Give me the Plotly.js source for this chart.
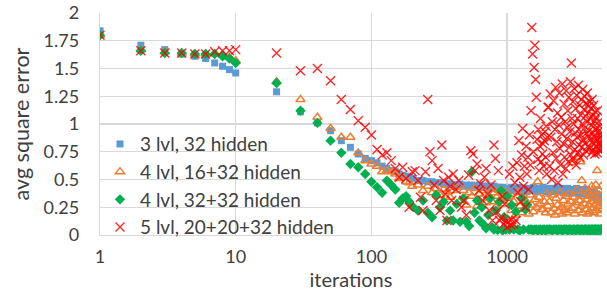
<!DOCTYPE html>
<html>
<head>
<meta charset="utf-8">
<script src="https://cdn.plot.ly/plotly-3.0.1.min.js"></script>
<style>html,body{margin:0;padding:0;background:#fff;}#chart{width:607px;height:291px;}</style>
</head>
<body>
<div id="chart"></div>
<script>
// iteration grid shared by the first three series
const iters = [1,2,3,4,5,6,7,8,9,10,
  20,30,40,50,60,70,80,90,100,
  110,120,130,140,150,160,170,180,190,200,
  220,240,260,280,300,320,340,360,380,400,
  425,450,475,500,525,550,575,600,625,650,675,700,725,750,775,800,825,850,875,900,925,950,975,1000,
  1040,1080,1120,1160,1200,1240,1280,1320,1360,1400,1440,1480,1520,1560,1600,1640,1680,1720,1760,1800,1840,1880,1920,1960,2000,
  2050,2100,2150,2200,2250,2300,2350,2400,2450,2500,2550,2600,2650,2700,2750,2800,2850,2900,2950,3000,
  3050,3100,3150,3200,3250,3300,3350,3400,3450,3500,3550,3600,3650,3700,3750,3800,3850,3900,3950,4000,
  4050,4100,4150,4200,4250,4300,4350,4400,4450,4500,4550,4600,4650,4700,4750,4800,4850,4900,4950,5000];

const lvl3 = [1.84,1.71,1.67,1.63,1.61,1.59,1.55,1.52,1.49,1.46,
  1.29,1.11,1.01,0.94,0.85,0.79,0.73,0.69,0.67,
  0.65,0.62,0.60,0.58,0.57,0.55,0.54,0.53,0.52,0.51,
  0.49,0.49,0.48,0.48,0.47,0.47,0.46,0.46,0.46,0.45,
  0.45,0.46,0.44,0.45,0.44,0.45,0.44,0.44,0.45,0.43,0.44,0.43,0.44,0.43,0.42,0.44,0.43,0.42,0.43,0.42,0.43,0.41,0.42,0.42,
  0.41,0.43,0.40,0.42,0.41,0.43,0.40,0.42,0.41,0.39,0.42,0.40,0.41,0.43,0.40,0.41,0.39,0.42,0.40,0.41,0.43,0.40,0.41,0.39,0.42,
  0.41,0.40,0.42,0.39,0.41,0.40,0.43,0.39,0.41,0.40,0.42,0.38,0.40,0.41,0.39,0.42,0.40,0.38,0.41,0.40,
  0.39,0.41,0.38,0.40,0.42,0.39,0.37,0.40,0.41,0.38,0.39,0.41,0.37,0.40,0.38,0.39,0.41,0.37,0.39,0.38,
  0.38,0.36,0.39,0.37,0.38,0.35,0.37,0.38,0.36,0.34,0.37,0.35,0.33,0.36,0.34,0.32,0.35,0.31,0.33,0.30];

const lvl4a = [1.80,1.67,1.65,1.64,1.63,1.63,1.63,1.62,1.60,1.57,
  1.38,1.22,1.06,0.96,0.88,0.88,0.74,0.67,0.64,
  0.62,0.57,0.58,0.57,0.55,0.51,0.52,0.48,0.47,0.44,
  0.45,0.40,0.44,0.38,0.42,0.36,0.41,0.39,0.34,0.40,
  0.43,0.31,0.40,0.27,0.38,0.35,0.42,0.26,0.37,0.33,0.40,0.29,0.36,0.41,0.30,0.38,0.25,0.35,0.40,0.31,0.37,0.28,0.39,0.33,
  0.35,0.22,0.30,0.18,0.38,0.26,0.20,0.33,0.24,0.29,0.19,0.36,0.27,0.21,0.32,0.25,0.48,0.34,0.28,0.23,0.23,0.30,0.20,0.37,0.26,
  0.30,0.20,0.36,0.24,0.18,0.33,0.27,0.21,0.38,0.25,0.19,0.31,0.23,0.35,0.20,0.28,0.37,0.22,0.30,0.65,
  0.24,0.34,0.19,0.29,0.40,0.70,0.22,0.31,0.66,0.26,0.49,0.20,0.35,0.28,0.42,0.23,0.32,0.19,0.38,0.27,
  0.21,0.36,0.30,0.44,0.24,0.33,0.20,0.39,0.28,0.45,0.22,0.58,0.31,0.26,0.40,0.19,0.35,0.29,0.44,0.24];

const lvl4b = [1.80,1.66,1.64,1.64,1.63,1.63,1.63,1.61,1.59,1.55,
  1.37,1.12,1.01,0.85,0.74,0.64,0.61,0.55,0.48,
  0.43,0.38,0.49,0.45,0.41,0.29,0.33,0.35,0.30,0.26,
  0.22,0.31,0.20,0.16,0.36,0.25,0.30,0.13,0.22,0.13,
  0.28,0.12,0.33,0.12,0.08,0.57,0.20,0.31,0.13,0.25,0.09,0.06,0.18,0.33,0.07,0.05,0.22,0.045,0.30,0.40,0.04,0.16,0.05,0.35,
  0.05,0.27,0.05,0.21,0.05,0.04,0.33,0.05,0.23,0.27,0.05,0.05,0.05,0.04,0.05,0.05,0.04,0.05,0.05,0.04,0.05,0.05,0.04,0.05,0.05,
  0.05,0.05,0.04,0.05,0.05,0.05,0.04,0.05,0.05,0.05,0.04,0.05,0.05,0.05,0.05,0.04,0.05,0.05,0.05,0.04,
  0.05,0.05,0.05,0.04,0.05,0.05,0.05,0.05,0.04,0.05,0.05,0.05,0.04,0.05,0.05,0.05,0.05,0.04,0.05,0.05,
  0.05,0.04,0.05,0.05,0.05,0.05,0.04,0.05,0.05,0.05,0.05,0.04,0.05,0.05,0.05,0.04,0.05,0.05,0.05,0.05];

// iteration grid of the 5-level series
const itersR = [1,2,3,4,5,6,7,8,9,10,
  20,30,40,50,60,70,80,90,100,
  110,120,130,140,150,160,170,180,190,200,
  210,220,230,240,250,260,270,280,290,300,310,320,330,340,350,360,370,380,390,400,
  420,440,460,480,500,520,540,560,580,600,620,640,660,680,700,720,740,760,780,800,820,840,860,880,900,920,940,960,980,1000,
  1020,1040,1060,1080,1100,1120,1140,1160,1180,1200,1220,1240,1260,1280,1300,1320,1340,1360,1380,1400,
  1420,1440,1460,1480,1500,1520,1540,1560,1580,1600,1620,1640,1660,1680,1700,1720,1740,1760,1780,1800,
  1820,1840,1860,1880,1900,1920,1940,1960,1980,2000,
  2025,2050,2075,2100,2125,2150,2175,2200,2225,2250,2275,2300,2325,2350,2375,2400,2425,2450,2475,2500,
  2525,2550,2575,2600,2625,2650,2675,2700,2725,2750,2775,2800,2825,2850,2875,2900,2925,2950,2975,3000,
  3025,3050,3075,3100,3125,3150,3175,3200,3225,3250,3275,3300,3325,3350,3375,3400,3425,3450,3475,3500,
  3525,3550,3575,3600,3625,3650,3675,3700,3725,3750,3775,3800,3825,3850,3875,3900,3925,3950,3975,4000,
  4025,4050,4075,4100,4125,4150,4175,4200,4225,4250,4275,4300,4325,4350,4375,4400,4425,4450,4475,4500,
  4525,4550,4575,4600,4625,4650,4675,4700,4725,4750,4775,4800,4825,4850,4875,4900,4925,4950,4975,5000];

const lvl5 = [1.80,1.66,1.64,1.64,1.63,1.63,1.65,1.66,1.66,1.67,
  1.64,1.48,1.50,1.39,1.22,1.13,1.03,0.97,0.90,
  0.77,0.72,0.74,0.67,0.60,0.52,0.61,0.51,0.25,0.57,
  0.58,0.49,0.34,0.22,0.57,1.22,0.75,0.67,0.45,0.31,0.60,0.22,0.81,0.49,0.37,0.13,0.52,0.44,0.31,0.55,
  0.41,0.49,0.25,0.31,0.18,0.54,0.76,0.73,0.58,0.64,0.40,0.46,0.31,0.52,0.60,0.37,0.22,0.45,0.13,0.81,0.69,0.21,0.58,0.13,0.15,0.35,0.10,0.28,0.12,0.07,
  0.12,0.55,0.09,0.14,0.62,0.10,0.47,0.13,0.65,0.38,0.85,0.52,0.30,0.72,0.96,0.44,0.62,0.25,0.80,0.55,
  0.70,0.41,0.90,0.63,1.12,1.87,1.63,0.75,1.51,1.71,1.40,1.24,0.86,0.68,0.95,0.58,0.80,1.05,0.66,0.90,
  0.73,0.82,0.62,0.85,0.93,0.70,0.98,0.55,0.88,1.15,
  1.15,0.62,1.27,0.88,0.50,1.02,0.74,1.21,0.58,0.95,1.33,0.69,0.84,1.10,0.47,0.99,1.28,0.78,0.63,1.06,
  0.91,1.36,0.55,0.82,1.18,0.70,1.02,0.60,1.30,0.87,0.97,1.12,0.66,1.24,0.79,0.93,1.38,0.72,1.55,1.05,
  0.84,1.20,0.68,1.00,1.32,0.77,0.92,1.14,0.63,1.26,0.88,1.05,0.74,1.35,0.95,0.81,1.17,0.70,1.08,0.90,
  1.22,0.79,1.00,1.31,0.86,0.72,1.13,0.96,1.25,0.83,1.07,0.76,1.19,0.92,1.02,1.28,0.80,1.10,0.89,1.16,
  0.94,1.20,0.78,1.05,0.86,1.14,0.74,0.99,1.22,0.83,1.08,0.92,0.77,1.17,0.88,1.03,0.73,1.11,0.95,0.84,
  1.06,0.80,0.97,0.74,1.12,0.86,0.93,0.78,1.02,0.83,0.90,0.76,0.98,0.82,0.88,0.75,0.92,0.80,0.85,0.78];

const seriesNames = ["3 lvl, 32 hidden","4 lvl, 16+32 hidden","4 lvl, 32+32 hidden","5 lvl, 20+20+32 hidden"];
const xTickVals = [1,10,100,1000];
const xTickText = ["1","10","100","1000"];
const yTickVals = [0,0.25,0.5,0.75,1,1.25,1.5,1.75,2];
const yTickText = ["0","0.25","0.5","0.75","1","1.25","1.5","1.75","2"];

const FONT = "Lato, 'Open Sans', sans-serif";
const TXT = "#404040";
const GRID = "#D9D9D9";

const traces = [
  {x: iters, y: lvl3, name: seriesNames[0], type: "scatter", mode: "markers",
   marker: {symbol: "square", size: 7, color: "#5B9BD5"}},
  {x: iters, y: lvl4a, name: seriesNames[1], type: "scatter", mode: "markers",
   marker: {symbol: "triangle-up-open", size: 8, color: "#ED7D31", line: {width: 1.5}}},
  {x: iters, y: lvl4b, name: seriesNames[2], type: "scatter", mode: "markers",
   marker: {symbol: "diamond", size: 8, color: "#00B050"}},
  {x: itersR, y: lvl5, name: seriesNames[3], type: "scatter", mode: "markers",
   marker: {symbol: "x-thin-open", size: 9, color: "rgba(255,0,0,0.85)", line: {width: 1.4}}}
];

const layout = {
  width: 607, height: 291,
  margin: {l: 100, r: 5, t: 13, b: 56, pad: 0},
  paper_bgcolor: "#fff", plot_bgcolor: "#fff",
  font: {family: FONT, size: 18, color: TXT},
  showlegend: true,
  legend: {x: 0.0, xanchor: "left", y: 0.495, yanchor: "top",
    bgcolor: "rgba(0,0,0,0)", font: {family: FONT, size: 19, color: TXT}, traceorder: "normal"},
  xaxis: {type: "log", range: [0, Math.log10(5000)], tickvals: xTickVals, ticktext: xTickText,
    showgrid: true, gridcolor: GRID, gridwidth: 1.3, showline: true, linecolor: GRID, linewidth: 1.3,
    zeroline: false, ticks: "", ticklabelstandoff: 5,
    tickfont: {family: FONT, size: 18, color: TXT},
    title: {text: "iterations", font: {family: FONT, size: 20, color: TXT}, standoff: 8}},
  yaxis: {range: [0, 2], tickvals: yTickVals, ticktext: yTickText,
    showgrid: true, gridcolor: GRID, gridwidth: 1.3, showline: true, linecolor: GRID, linewidth: 1.3,
    zeroline: false, ticks: "", ticklabelstandoff: 16,
    tickfont: {family: FONT, size: 18, color: TXT},
    title: {text: "avg square error", font: {family: FONT, size: 21.5, color: TXT}, standoff: 8}}
};

Plotly.newPlot("chart", traces, layout, {displayModeBar: false, staticPlot: true});
</script>
</body>
</html>
